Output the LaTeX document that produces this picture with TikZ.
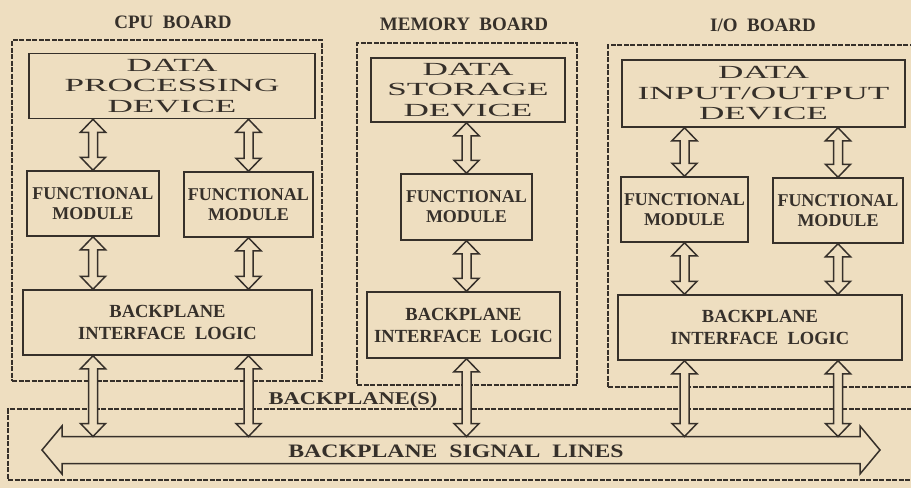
\documentclass[tikz,border=0pt]{standalone}
\usepackage{fontspec}
\setmainfont{Liberation Serif}
\newfontfamily\datafont[FakeStretch=1.9]{Liberation Serif}
\newfontfamily\bpfont[FakeStretch=1.25]{Liberation Serif}
\usetikzlibrary{calc}
\definecolor{paper}{HTML}{EEDEC0}
\definecolor{ink}{HTML}{36302A}
\tikzset{
  box/.style={draw=ink, line width=1.5pt, rectangle, inner sep=0pt, text=ink, align=center},
  databox/.style={box, font=\datafont\fontsize{18.5}{20.5}\selectfont},
  fmbox/.style={box, font=\bfseries\fontsize{18}{20}\selectfont},
  bilbox/.style={box, font=\bfseries\fontsize{18.5}{22}\selectfont},
  board/.style={draw=ink, line width=1.3pt, dash pattern=on 5pt off 1.5pt, rectangle, inner sep=0pt},
  boardtitle/.style={text=ink, font=\bfseries\fontsize{19}{20}\selectfont, inner sep=0pt},
  bptext/.style={text=ink, inner sep=0pt},
  barrow/.style={draw=ink, fill=paper, line width=1.5pt, line join=miter},
}
\newcommand\vdarr[2]{\path[barrow] let \p1=#1, \p2=#2 in
  (\x1,\y1) -- (\x1+12.5pt,\y1-13pt) -- (\x1+4.5pt,\y1-13pt) -- (\x1+4.5pt,\y2+13pt)
  -- (\x1+12.5pt,\y2+13pt) -- (\x1,\y2) -- (\x1-12.5pt,\y2+13pt) -- (\x1-4.5pt,\y2+13pt)
  -- (\x1-4.5pt,\y1-13pt) -- (\x1-12.5pt,\y1-13pt) -- cycle;}
\begin{document}
\begin{tikzpicture}[x=1pt,y=-1pt]
\useasboundingbox (0,0) rectangle (911,488);
\clip (0,0) rectangle (911,488);
\fill[paper] (0,0) rectangle (911,488);

% boards
\node[board, minimum width=310pt, minimum height=341pt] (cpu) at (167,210.5) {};
\node[board, minimum width=220pt, minimum height=342pt] (mem) at (467,214) {};
\node[board, minimum width=330pt, minimum height=342pt] (io) at (773,216) {};
\node[board, minimum width=930pt, minimum height=71pt] (bp) at (473,444.5) {};

% titles
\node[boardtitle] (tcpu) at (173,22) {CPU\ \ BOARD};
\node[boardtitle] (tmem) at (464,24) {MEMORY\ \ BOARD};
\node[boardtitle] (tio) at (763,25) {I/O\ \ BOARD};
\node[bptext, font=\bpfont\bfseries\fontsize{18}{20}\selectfont] (bps) at (353,400) {BACKPLANE(S)};

% CPU board
\node[databox, minimum width=286pt, minimum height=65pt] (dpd) at (172,86) {DATA\\PROCESSING\\DEVICE};
\node[fmbox, minimum width=132pt, minimum height=65pt] (fmA) at (93,203.5) {FUNCTIONAL\\MODULE};
\node[fmbox, minimum width=129pt, minimum height=65pt] (fmB) at (248.5,204.5) {FUNCTIONAL\\MODULE};
\node[bilbox, minimum width=289pt, minimum height=65pt] (bilA) at (167.5,322.5) {BACKPLANE\\INTERFACE\ \ LOGIC};

% Memory board
\node[databox, minimum width=194pt, minimum height=64pt] (dsd) at (468,90) {DATA\\STORAGE\\DEVICE};
\node[fmbox, minimum width=131pt, minimum height=66pt] (fmC) at (466.5,207) {FUNCTIONAL\\MODULE};
\node[bilbox, minimum width=193pt, minimum height=66pt] (bilB) at (463.5,325) {BACKPLANE\\INTERFACE\ \ LOGIC};

% I/O board
\node[databox, minimum width=283pt, minimum height=67pt] (dio) at (763.5,93.5) {DATA\\INPUT/OUTPUT\\DEVICE};
\node[fmbox, minimum width=127pt, minimum height=65pt] (fmD) at (684.5,209.5) {FUNCTIONAL\\MODULE};
\node[fmbox, minimum width=130pt, minimum height=65pt] (fmE) at (838,210.5) {FUNCTIONAL\\MODULE};
\node[bilbox, minimum width=284pt, minimum height=65pt] (bilC) at (760,327.5) {BACKPLANE\\INTERFACE\ \ LOGIC};

% signal lines arrow
\coordinate (sigL) at (42,450);
\coordinate (sigR) at (880,450);
\path[barrow] (sigL) -- (62,426) -- (62,436.5) -- (860,436.5) -- (860,426) -- (sigR)
  -- (860,474) -- (860,463.5) -- (62,463.5) -- (62,474) -- cycle;
\coordinate (bus) at (461,436.5);
\node[bptext, font=\bpfont\bfseries\fontsize{19}{20}\selectfont] (sig) at (456,451) {BACKPLANE\ \ SIGNAL\ \ LINES};

% vertical double arrows
\vdarr{(dpd.south -| fmA)}{(fmA.north)}
\vdarr{(dpd.south -| fmB)}{(fmB.north)}
\vdarr{(fmA.south)}{(bilA.north -| fmA)}
\vdarr{(fmB.south)}{(bilA.north -| fmB)}
\vdarr{(bilA.south -| fmA)}{(bus -| fmA)}
\vdarr{(bilA.south -| fmB)}{(bus -| fmB)}

\vdarr{(dsd.south -| fmC)}{(fmC.north)}
\vdarr{(fmC.south)}{(bilB.north -| fmC)}
\vdarr{(bilB.south -| fmC)}{(bus -| fmC)}

\vdarr{(dio.south -| fmD)}{(fmD.north)}
\vdarr{(dio.south -| fmE)}{(fmE.north)}
\vdarr{(fmD.south)}{(bilC.north -| fmD)}
\vdarr{(fmE.south)}{(bilC.north -| fmE)}
\vdarr{(bilC.south -| fmD)}{(bus -| fmD)}
\vdarr{(bilC.south -| fmE)}{(bus -| fmE)}
\end{tikzpicture}
\end{document}
